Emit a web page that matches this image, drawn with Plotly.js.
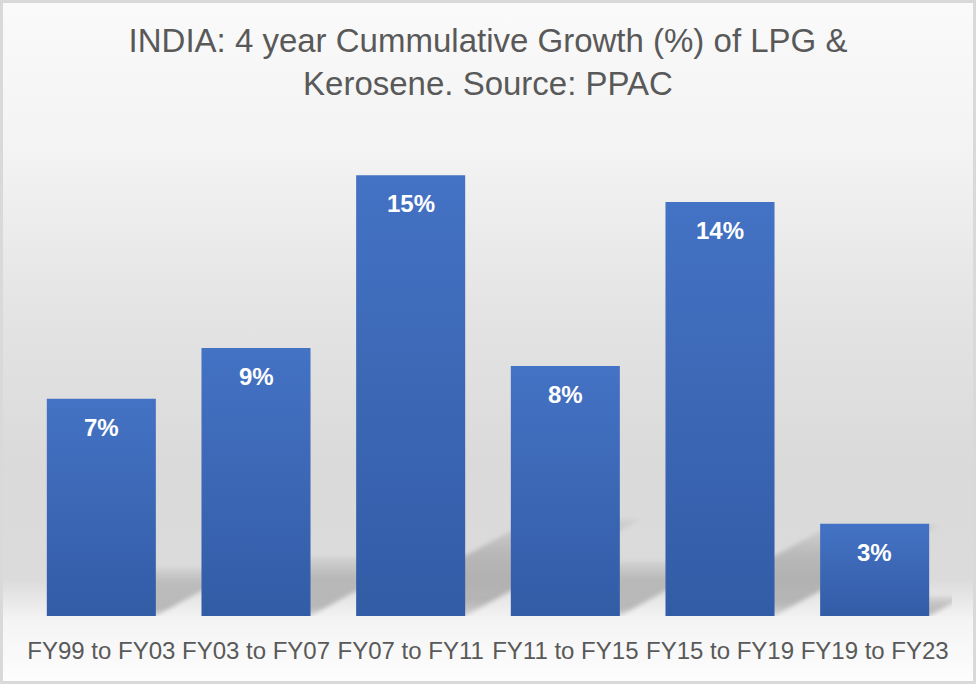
<!DOCTYPE html>
<html>
<head>
<meta charset="utf-8">
<script src="https://cdn.plot.ly/plotly-3.0.1.min.js"></script>
<style>
  html, body { margin: 0; padding: 0; background: #ffffff; }
  #wrap {
    position: relative; width: 976px; height: 684px; box-sizing: border-box;
    border: 3px solid #d9d9d9;
    background: linear-gradient(to bottom, #fafafa 0%, #f3f3f3 22%, #e4e4e4 45%, #dadada 68%, #dbdbdb 85%, #f4f4f4 91%, #fdfdfd 100%);
  }
  #chart { position: absolute; left: -3px; top: -3px; width: 976px; height: 684px; }
</style>
</head>
<body>
<div id="wrap"><div id="chart"></div></div>
<script>
// Data
const categories = ["FY99 to FY03", "FY03 to FY07", "FY07 to FY11", "FY11 to FY15", "FY15 to FY19", "FY19 to FY23"];
const growth = [0.073, 0.090, 0.148, 0.084, 0.139, 0.031];
const chartTitle = "INDIA: 4 year Cummulative Growth (%) of LPG &<br>Kerosene. Source: PPAC";

const positions = categories.map((c, i) => i);
const BARGAP = 0.295;
const FONT = "Liberation Sans, Arial, sans-serif";

const trace = {
  type: "bar",
  x: positions,
  y: growth,
  marker: { color: "#3d68b8", line: { width: 0 } },
  hoverinfo: "y",
  showlegend: false
};

const annotations = positions.map((p, i) => ({
  x: p, y: growth[i], xref: "x", yref: "y",
  text: "<b>" + Math.round(growth[i] * 100) + "%</b>",
  showarrow: false, yanchor: "top", yshift: -13,
  font: { family: FONT, size: 24, color: "#ffffff" }
}));

// perspective shadows cast up-right behind each bar (decorative)
const halfW = (1 - BARGAP) / 2;
const shadowH = 0.22;   // shadow height as share of bar height
const shadowSkew = 7.7; // horizontal shift (category units) per unit of value
const shapes = positions.map((p, i) => {
  const v = growth[i], h = v * shadowH, d = v * shadowSkew;
  const x0 = p - halfW, x1 = p + halfW;
  return {
    type: "path", xref: "x", yref: "y", layer: "below",
    path: `M ${x0} 0 L ${x1} 0 L ${x1 + d} ${h} L ${x0 + d} ${h} Z`,
    fillcolor: "rgba(0,0,0,0.12)", line: { width: 0 }
  };
});

const layout = {
  width: 976, height: 684,
  margin: { l: 24, r: 24, t: 150, b: 68, pad: 0 },
  paper_bgcolor: "rgba(0,0,0,0)",
  plot_bgcolor: "rgba(0,0,0,0)",
  bargap: BARGAP,
  title: {
    text: chartTitle,
    x: 0.5, xanchor: "center",
    y: 1 - 52 / 684, yref: "container", yanchor: "middle",
    font: { family: FONT, size: 33, color: "#595959" }
  },
  xaxis: {
    range: [-0.5, categories.length - 0.5],
    tickvals: positions, ticktext: categories,
    showgrid: false, zeroline: false, showline: false, ticks: "",
    ticklabelstandoff: 18,
    tickfont: { family: FONT, size: 24, color: "#595959" }
  },
  yaxis: {
    range: [0, 0.1565],
    visible: false, showgrid: false, zeroline: false
  },
  shapes: shapes,
  annotations: annotations
};

Plotly.newPlot("chart", [trace], layout, { displayModeBar: false, staticPlot: true }).then(gd => {
  const svg = gd.querySelector("svg.main-svg");
  const ns = "http://www.w3.org/2000/svg";
  let defs = svg.querySelector("defs");
  if (!defs) { defs = document.createElementNS(ns, "defs"); svg.insertBefore(defs, svg.firstChild); }
  function grad(id, stops) {
    const g = document.createElementNS(ns, "linearGradient");
    g.setAttribute("id", id);
    g.setAttribute("x1", "0"); g.setAttribute("y1", "0");
    g.setAttribute("x2", "0"); g.setAttribute("y2", "1");
    stops.forEach(([o, c, a]) => {
      const s = document.createElementNS(ns, "stop");
      s.setAttribute("offset", o); s.setAttribute("stop-color", c);
      s.setAttribute("stop-opacity", a);
      g.appendChild(s);
    });
    defs.appendChild(g);
  }
  grad("barGrad", [["0", "#4472c4", 1], ["1", "#335ca6", 1]]);
  grad("shadowGrad", [["0", "#000", 0.04], ["0.35", "#000", 0.16], ["0.85", "#000", 0.22], ["1", "#000", 0.12]]);
  const f = document.createElementNS(ns, "filter");
  f.setAttribute("id", "shadowBlur");
  f.setAttribute("x", "-20%"); f.setAttribute("y", "-30%");
  f.setAttribute("width", "140%"); f.setAttribute("height", "160%");
  const b = document.createElementNS(ns, "feGaussianBlur");
  b.setAttribute("stdDeviation", "2");
  f.appendChild(b);
  defs.appendChild(f);
  gd.querySelectorAll(".bars .point path").forEach(p => { p.style.fill = "url(#barGrad)"; });
  gd.querySelectorAll(".shapelayer path").forEach(p => {
    p.style.fill = "url(#shadowGrad)";
    p.style.fillOpacity = 1;
    p.style.filter = "url(#shadowBlur)";
  });
});
</script>
</body>
</html>
